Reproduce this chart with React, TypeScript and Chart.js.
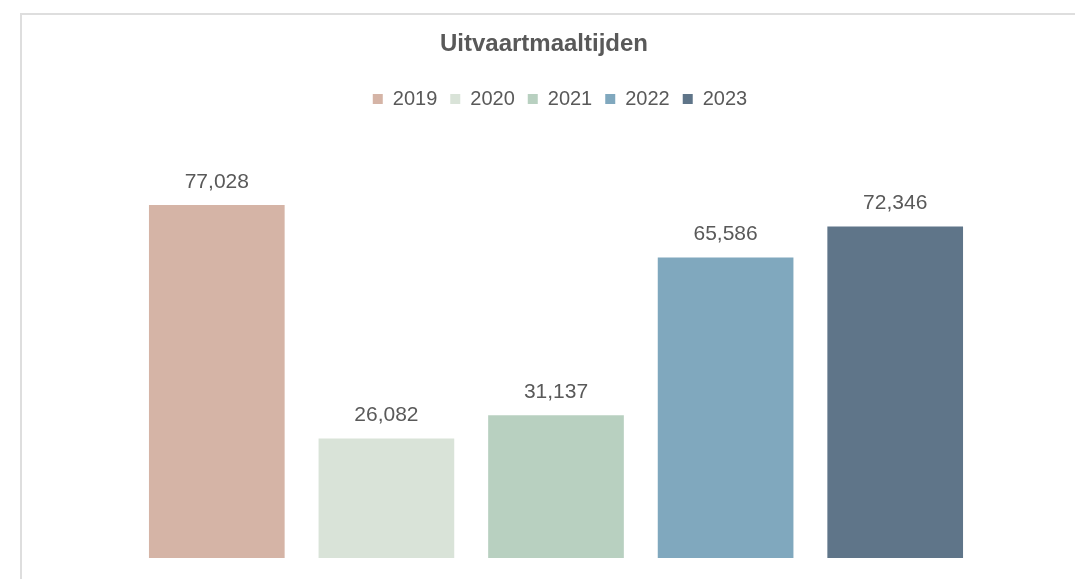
import React, { useEffect, useRef } from 'react';
import { Chart, registerables } from 'chart.js';

Chart.register(...registerables);

const chartTitle = 'Uitvaartmaaltijden';
const years = ['2019', '2020', '2021', '2022', '2023'];
const values = [77028, 26082, 31137, 65586, 72346];
const colors = ['#D5B4A6', '#D9E3D8', '#B8D0C0', '#80A8BE', '#5F7589'];
const yMin = 0;
const yMax = 90000;

const textColor = '#595959';
const fontFamily = '"Liberation Sans", Arial, Helvetica, sans-serif';

export default function App() {
  const ref = useRef<HTMLCanvasElement>(null);

  useEffect(() => {
    const canvas = ref.current;
    if (!canvas) return;

    const dataLabels = {
      id: 'dataLabels',
      afterDatasetsDraw(chart: any) {
        const ctx = chart.ctx;
        ctx.save();
        ctx.font = `21px ${fontFamily}`;
        ctx.fillStyle = textColor;
        ctx.textAlign = 'center';
        ctx.textBaseline = 'alphabetic';
        chart.data.datasets.forEach((ds: any, di: number) => {
          const meta = chart.getDatasetMeta(di);
          meta.data.forEach((el: any, i: number) => {
            const v = ds.data[i];
            if (v === null || v === undefined) return;
            ctx.fillText(Number(v).toLocaleString('en-US'), el.x, el.y - 17);
          });
        });
        ctx.restore();
      },
    };

    const shiftBoxes = {
      id: 'shiftBoxes',
      afterLayout(chart: any) {
        const t = chart.titleBlock;
        if (t) { t.left -= 12; t.right -= 12; }
        const l = chart.legend;
        if (l) { l.left += 4; l.right += 4; }
      },
    };

    const chart = new Chart(canvas, {
      type: 'bar',
      data: {
        labels: years,
        datasets: years.map((y, i) => ({
          label: y,
          data: values.map((v, j) => (j === i ? v : null)),
          backgroundColor: colors[i],
          borderWidth: 0,
          categoryPercentage: 1,
          barPercentage: 0.8,
          skipNull: true,
        })),
      },
      options: {
        responsive: false,
        animation: false,
        events: [],
        layout: { padding: { left: 132, right: 95, top: 0, bottom: 21 } },
        font: { family: fontFamily },
        plugins: {
          title: {
            display: true,
            text: chartTitle,
            color: textColor,
            font: { family: fontFamily, size: 24, weight: 'bold' },
            padding: { top: 29.6, bottom: 17.6 },
          },
          legend: {
            display: true,
            position: 'top',
            labels: {
              color: textColor,
              font: { family: fontFamily, size: 20 },
              boxWidth: 10,
              boxHeight: 10,
              padding: 13,
            },
          },
          tooltip: { enabled: false },
        },
        scales: {
          x: { display: false, grid: { display: false } },
          xTop: {
            type: 'category',
            position: 'top',
            display: true,
            grid: { display: false },
            border: { display: false },
            ticks: { display: false },
            afterFit: (s: any) => { s.height = 26.5; },
          },
          y: { display: false, min: yMin, max: yMax, grid: { display: false } },
        },
      } as any,
      plugins: [dataLabels, shiftBoxes],
    } as any);

    return () => chart.destroy();
  }, []);

  return (
    <div style={{ position: 'fixed', left: 0, top: 0, width: 1075, height: 579, overflow: 'hidden', background: '#fff' }}>
      <div
        style={{
          position: 'absolute',
          left: 20,
          top: 13,
          width: 1100,
          height: 600,
          borderLeft: '2px solid #dedede',
          borderTop: '2px solid #dedede',
        }}
      />
      <canvas ref={ref} width={1075} height={579} style={{ position: 'absolute', left: 0, top: 0 }} />
    </div>
  );
}
